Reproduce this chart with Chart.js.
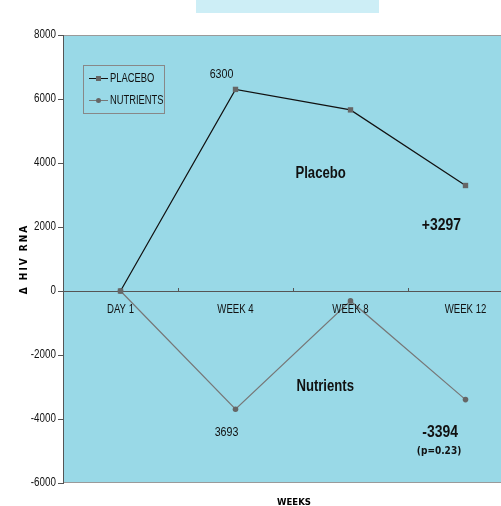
<!DOCTYPE html>
<html lang="en">
<head>
  <meta charset="UTF-8">
  <title>HIV RNA change</title>
  <script src="https://cdn.jsdelivr.net/npm/chart.js"></script>
  <style>
    body {
      margin: 0;
      padding: 0;
      background: #fff;
    }
    .wrap {
      width: 501px;
      height: 506px;
      overflow: hidden;
    }
  </style>
</head>
<body>
  <div class="wrap">
    <canvas id="chart" width="527" height="506"></canvas>
  </div>

  <script>
    // данные графика
    const weeks = ['DAY 1', 'WEEK 4', 'WEEK 8', 'WEEK 12'];
    const placebo = [0, 6300, 5660, 3297];
    const nutrients = [0, -3693, -310, -3394];
    const yTicks = [-6000, -4000, -2000, 0, 2000, 4000, 6000, 8000];

    const SANS = "'Liberation Sans', Arial, sans-serif";
    const COND = "'DejaVu Sans Condensed', 'DejaVu Sans', sans-serif";

    // подписи на графике: [текст, индекс по x, значение по y, шрифт]
    const notes = [
      ['Placebo', 1.74, 3656, 'bold 16px ' + SANS],
      ['+3297', 2.79, 2062, 'bold 17px ' + SANS],
      ['Nutrients', 1.78, -3000, 'bold 16px ' + SANS],
      ['-3394', 2.78, -4406, 'bold 17px ' + SANS],
    ];

    // узкий текст: сжимаем по горизонтали (шрифта Narrow нет)
    function narrowText(ctx, text, x, y, font, align, sx = 0.82) {
      ctx.save();
      ctx.font = font;
      ctx.textAlign = align || 'center';
      ctx.translate(x, y);
      ctx.scale(sx, 1);
      ctx.fillText(text, 0, 0);
      ctx.restore();
    }

    const decor = {
      id: 'decor',
      beforeDraw(chart) {
        const { ctx, chartArea: a } = chart;
        ctx.save();
        // светлый прямоугольник сверху (обрезанный заголовок)
        ctx.fillStyle = '#cdeef6';
        ctx.fillRect(196, 0, 183, 13);
        // фон области графика
        ctx.fillStyle = '#99d9e7';
        ctx.fillRect(a.left, a.top, a.right - a.left, a.bottom - a.top);
        ctx.strokeStyle = '#9a9a9a';
        ctx.lineWidth = 1;
        ctx.beginPath();
        ctx.moveTo(a.left, a.top + 0.5);
        ctx.lineTo(a.right, a.top + 0.5);
        ctx.moveTo(a.left, a.bottom - 0.5);
        ctx.lineTo(a.right, a.bottom - 0.5);
        ctx.stroke();
        ctx.restore();
      },
      afterDraw(chart) {
        const { ctx, scales: { x, y } } = chart;
        ctx.save();
        ctx.fillStyle = '#111';
        ctx.textBaseline = 'middle';

        // подписи делений
        y.ticks.forEach((t, i) => {
          narrowText(ctx, String(t.value), y.right - 7, y.getPixelForTick(i), '12px ' + SANS, 'right');
        });
        x.ticks.forEach((t, i) => {
          narrowText(ctx, weeks[i], x.getPixelForTick(i), y.getPixelForValue(0) + 19, '12px ' + SANS, 'center', 0.8);
        });

        // значения у точек
        narrowText(ctx, String(placebo[1]), x.getPixelForValue(1) - 14, y.getPixelForValue(placebo[1]) - 15, '13px ' + SANS);
        narrowText(ctx, String(-nutrients[1]), x.getPixelForValue(1) - 9, y.getPixelForValue(nutrients[1]) + 23, '13px ' + SANS);

        notes.forEach(([text, xi, yv, font]) => {
          narrowText(ctx, text, x.getPixelForValue(xi), y.getPixelForValue(yv), font);
        });
        ctx.font = 'bold 10px ' + COND;
        ctx.textAlign = 'center';
        ctx.fillText('(p=0.23)', x.getPixelForValue(2.77), y.getPixelForValue(-5000));

        // легенда
        const lx = 83, ly = 65;
        ctx.fillStyle = '#99d9e7';
        ctx.fillRect(lx, ly, 81, 48);
        ctx.strokeStyle = '#888';
        ctx.lineWidth = 1;
        ctx.strokeRect(lx + 0.5, ly + 0.5, 81, 48);
        const rows = [
          ['PLACEBO', '#111', 'rect', 13],
          ['NUTRIENTS', '#777', 'circle', 35],
        ];
        rows.forEach(([label, color, shape, dy]) => {
          const yy = ly + dy;
          ctx.strokeStyle = color;
          ctx.beginPath();
          ctx.moveTo(lx + 6, yy + 0.5);
          ctx.lineTo(lx + 25, yy + 0.5);
          ctx.stroke();
          ctx.fillStyle = '#666';
          if (shape === 'rect') {
            ctx.fillRect(lx + 13, yy - 2, 5, 5);
          } else {
            ctx.beginPath();
            ctx.arc(lx + 15.5, yy + 0.5, 2.5, 0, Math.PI * 2);
            ctx.fill();
          }
          ctx.fillStyle = '#111';
          narrowText(ctx, label, lx + 27, yy + 1, '12px ' + SANS, 'left', 0.78);
        });

        // подписи осей
        ctx.fillStyle = '#000';
        ctx.textAlign = 'center';
        ctx.font = 'bold 9.5px ' + COND;
        ctx.textBaseline = 'top';
        ctx.fillText('WEEKS', 294, 498);

        ctx.translate(24, 259);
        ctx.rotate(-Math.PI / 2);
        ctx.textBaseline = 'middle';
        ctx.font = 'bold 10px ' + COND;
        ctx.letterSpacing = '2px';
        ctx.fillText('\u0394 HIV RNA', 0, 0);
        ctx.restore();
      }
    };

    new Chart(document.getElementById('chart'), {
      type: 'line',
      data: {
        labels: weeks,
        datasets: [
          {
            label: 'PLACEBO',
            data: placebo,
            borderColor: '#111',
            borderWidth: 1.2,
            pointStyle: 'rect',
            pointRadius: 3.8,
            pointBackgroundColor: '#666',
            pointBorderColor: '#666',
            pointBorderWidth: 0,
            tension: 0,
          },
          {
            label: 'NUTRIENTS',
            data: nutrients,
            borderColor: '#777',
            borderWidth: 1.2,
            pointStyle: 'circle',
            pointRadius: 2.8,
            pointBackgroundColor: '#666',
            pointBorderColor: '#666',
            pointBorderWidth: 0,
            tension: 0,
          }
        ]
      },
      options: {
        responsive: false,
        animation: false,
        layout: {
          padding: { top: 35, bottom: 23, left: 0, right: 0 }
        },
        plugins: {
          legend: { display: false },
          tooltip: { enabled: false }
        },
        scales: {
          x: {
            type: 'category',
            position: { y: 0 },
            offset: true,
            grid: {
              display: true,
              drawOnChartArea: false,
              drawTicks: true,
              tickLength: -4,
              offset: true,
              color: '#555'
            },
            border: { display: true, color: '#555', width: 1 },
            ticks: { display: false }
          },
          y: {
            position: 'left',
            min: -6000,
            max: 8000,
            afterFit(scale) { scale.width = 63; },
            afterBuildTicks(scale) { scale.ticks = yTicks.map(v => ({ value: v })); },
            grid: {
              display: true,
              drawOnChartArea: false,
              drawTicks: true,
              tickLength: 5,
              color: '#555'
            },
            border: { display: true, color: '#555', width: 1 },
            ticks: { display: false }
          }
        }
      },
      plugins: [decor]
    });
  </script>
</body>
</html>
